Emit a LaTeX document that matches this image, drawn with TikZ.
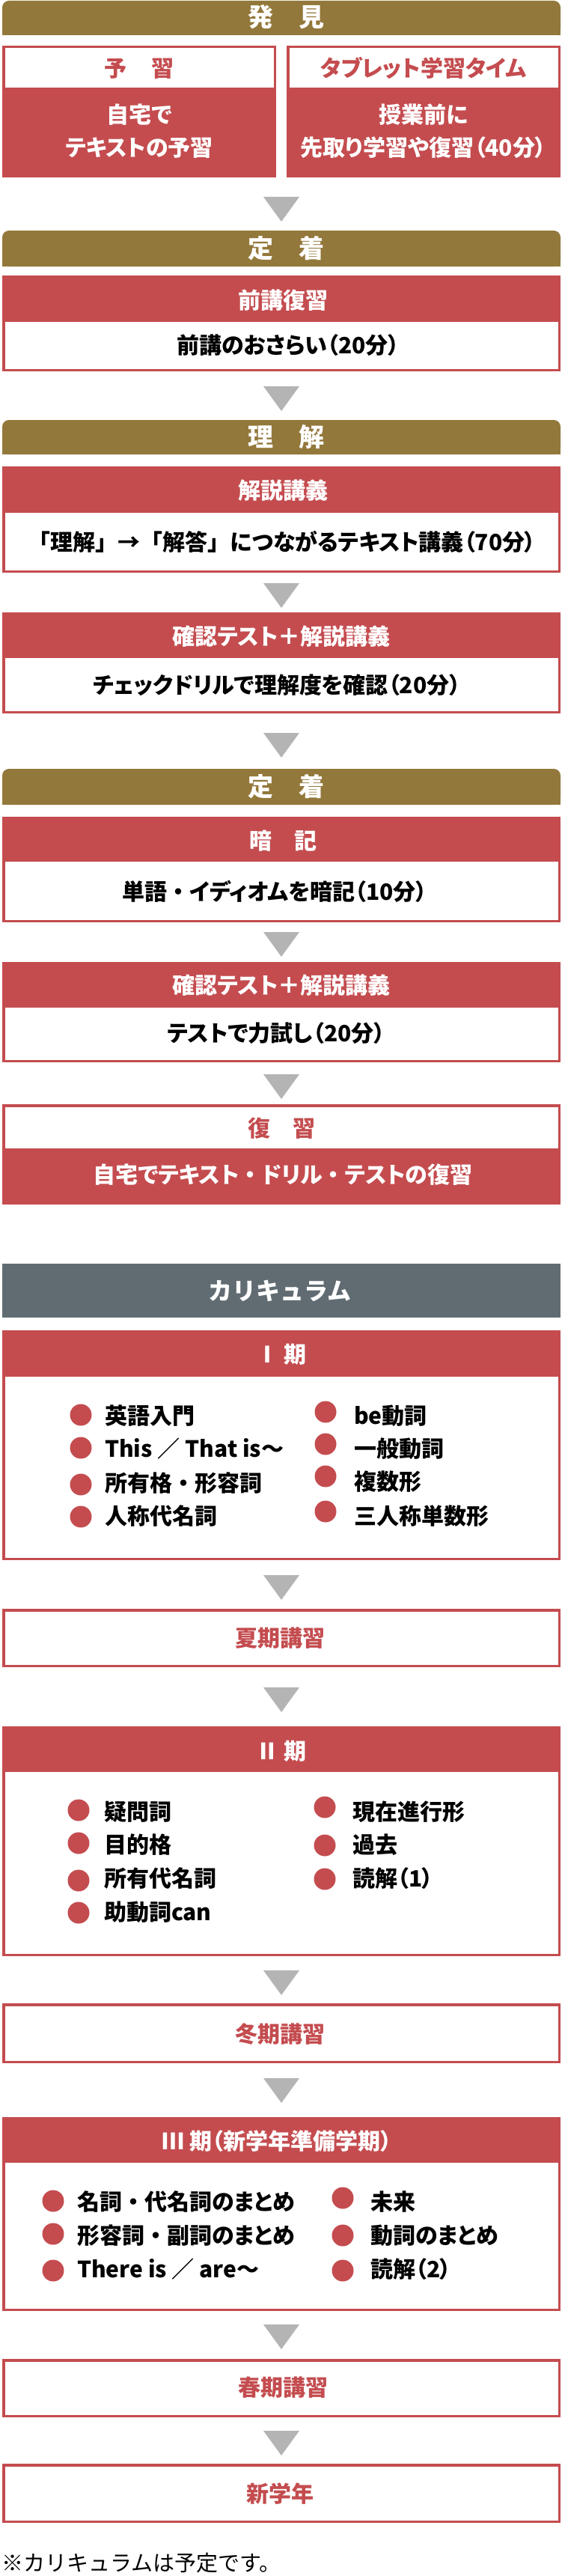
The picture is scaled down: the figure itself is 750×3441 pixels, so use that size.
\documentclass[tikz,border=0pt]{standalone}
\usepackage{fontspec}
\setmainfont{Noto Sans CJK JP}[RawFeature=+palt]
\newfontfamily\jpmono{Noto Sans CJK JP}
\newcommand\nk{{\jpmono ・}}
\newcommand\lb{{\jpmono 「}}
\newcommand\rb{{\jpmono 」}}
\definecolor{cred}{HTML}{C44C4F}
\definecolor{colive}{HTML}{93783B}
\definecolor{cslate}{HTML}{616C72}
\definecolor{cgray}{HTML}{B4B4B4}
\newcommand\redtopbox[3]{\fill[cred] (3,#1) rectangle (749,#2);
  \draw[cred,line width=3.5pt] (4.75,{#1+1.75}) rectangle (747.25,{#3-1.75});}
\newcommand\whitetopbox[3]{\fill[cred] (3,#2) rectangle (749,#3);
  \draw[cred,line width=3.5pt] (4.75,{#1+1.75}) rectangle (747.25,{#3-1.75});}
\newcommand\plainbox[2]{\draw[cred,line width=3.5pt] (4.75,{#1+1.75}) rectangle (747.25,{#2-1.75});}
\newcommand\downtri[1]{\fill[cgray] (352,#1) -- (400,#1) -- (376,{#1+33}) -- cycle;}
\newcommand\hdrband[3]{\fill[#3,rounded corners=9pt] (3,#1) rectangle (749,#2);
  \fill[#3] (3,{#1+15}) rectangle (749,#2);}
\tikzset{
  every node/.style={inner sep=0pt, outer sep=0pt},
  hdrtxt/.style={text=white, anchor=base, font=\jpmono\bfseries\fontsize{34}{40}\selectfont},
  slatetxt/.style={text=white, anchor=base, font=\jpmono\bfseries\fontsize{32}{38}\selectfont},
  ttlw/.style={text=white, anchor=base, font=\bfseries\fontsize{30}{36}\selectfont},
  ttlr/.style={text=cred, anchor=base, font=\bfseries\fontsize{30}{36}\selectfont},
  bodyk/.style={text=black, anchor=base, font=\bfseries\fontsize{30}{36}\selectfont},
  bodyw/.style={text=white, anchor=base, font=\bfseries\fontsize{30}{36}\selectfont},
  itemtxt/.style={text=black, anchor=base west, font=\bfseries\fontsize{30}{36}\selectfont},
  bul/.style={circle, fill=cred, minimum size=29pt, inner sep=0pt},
  foot/.style={text=black, anchor=base west, font=\jpmono\fontsize{29}{34}\selectfont},
}
\begin{document}
\begin{tikzpicture}[x=1pt,y=-1pt]
\useasboundingbox[fill=white] (0,0) rectangle (750,3441);

% ---- 発見
\hdrband{1}{47}{colive}
\node[hdrtxt] (h1) at (382,36) {発\hspace{1em}見};
% left box
\fill[cred] (3,117) rectangle (369,237);
\draw[cred,line width=3.5pt] (4.75,62.75) rectangle (367.25,235.25);
\node[ttlr] (yoshu) at (186,103) {予\hspace{1.1em}習};
\node[bodyw] (yoshu1) at (186,165) {自宅で};
\node[bodyw] (yoshu2) at (186,209) {テキストの予習};
% right box
\fill[cred] (383,117) rectangle (749,237);
\draw[cred,line width=3.5pt] (384.75,62.75) rectangle (747.25,235.25);
\node[ttlr] (tab) at (566,103) {タブレット学習タイム};
\node[bodyw] (tab1) at (566,165) {授業前に};
\node[bodyw] (tab2) at (566,209) {先取り学習や復習（40分）};
\downtri{263}

% ---- 定着
\hdrband{308}{356}{colive}
\node[hdrtxt] (h2) at (382,344) {定\hspace{1em}着};
\redtopbox{368}{430}{496}
\node[ttlw] (zenko) at (378,412) {前講復習};
\node[bodyk] (zenko1) at (385,472) {前講のおさらい（20分）};
\downtri{516}

% ---- 理解
\hdrband{561}{607}{colive}
\node[hdrtxt] (h3) at (382,596) {理\hspace{1em}解};
\redtopbox{623}{685}{765}
\node[ttlw] (kaisetsu) at (378,666) {解説講義};
\node[bodyk] (kaisetsu1) at (377,735) {\lb 理解\rb →\lb 解答\rb につながるテキスト講義（70分）};
\downtri{779}
\redtopbox{818}{879}{953}
\node[ttlw] (kakunin) at (376,861) {確認テスト＋解説講義};
\node[bodyk] (kakunin1) at (370,926) {チェックドリルで理解度を確認（20分）};
\downtri{979}

% ---- 定着
\hdrband{1027}{1075}{colive}
\node[hdrtxt] (h4) at (382,1063) {定\hspace{1em}着};
\redtopbox{1091}{1151}{1232}
\node[ttlw] (anki) at (378,1134) {暗\hspace{1em}記};
\node[bodyk] (anki1) at (367,1202) {単語\nk イディオムを暗記（10分）};
\downtri{1245}
\redtopbox{1285}{1346}{1419}
\node[ttlw] (kakunin2) at (376,1327) {確認テスト＋解説講義};
\node[bodyk] (kakunin3) at (369,1391) {テストで力試し（20分）};
\downtri{1435}
\whitetopbox{1475}{1534}{1609}
\node[ttlr] (fukushu) at (376,1518) {復\hspace{1em}習};
\node[bodyw] (fukushu1) at (378,1580) {自宅でテキスト\nk ドリル\nk テストの復習};

% ---- カリキュラム
\fill[cslate] (3,1688) rectangle (749,1760);
\node[slatetxt] (cur) at (374,1736) {カリキュラム};

% Ⅰ期
\redtopbox{1777}{1839}{2084}
\node[ttlw] (k1) at (376,1820) {Ⅰ 期};
\node[bul] (k1b1) at (108,1890) {};
\node[bul] (k1b2) at (108,1934) {};
\node[bul] (k1b3) at (108,1983) {};
\node[bul] (k1b4) at (108,2026) {};
\node[itemtxt] (k1t1) at (140,1902) {英語入門};
\node[itemtxt] (k1t2) at (140,1946) {This ／ That is～};
\node[itemtxt] (k1t3) at (140,1992) {所有格\nk 形容詞};
\node[itemtxt] (k1t4) at (140,2036) {人称代名詞};
\node[bul] (k1b5) at (435,1886) {};
\node[bul] (k1b6) at (435,1929) {};
\node[bul] (k1b7) at (435,1972) {};
\node[bul] (k1b8) at (435,2019) {};
\node[itemtxt] (k1t5) at (473,1902) {be動詞};
\node[itemtxt] (k1t6) at (473,1946) {一般動詞};
\node[itemtxt] (k1t7) at (473,1990) {複数形};
\node[itemtxt] (k1t8) at (473,2036) {三人称単数形};
\downtri{2104}
\plainbox{2149}{2227}
\node[ttlr] (kaki) at (374,2199) {夏期講習};
\downtri{2254}

% Ⅱ期
\redtopbox{2306}{2367}{2613}
\node[ttlw] (k2) at (376,2350) {Ⅱ 期};
\node[bul] (k2b1) at (105,2418) {};
\node[bul] (k2b2) at (105,2462) {};
\node[bul] (k2b3) at (105,2512) {};
\node[bul] (k2b4) at (105,2555) {};
\node[itemtxt] (k2t1) at (139,2431) {疑問詞};
\node[itemtxt] (k2t2) at (139,2475) {目的格};
\node[itemtxt] (k2t3) at (139,2520) {所有代名詞};
\node[itemtxt] (k2t4) at (139,2565) {助動詞can};
\node[bul] (k2b5) at (434,2414) {};
\node[bul] (k2b6) at (434,2465) {};
\node[bul] (k2b7) at (434,2510) {};
\node[itemtxt] (k2t5) at (471,2431) {現在進行形};
\node[itemtxt] (k2t6) at (471,2475) {過去};
\node[itemtxt] (k2t7) at (471,2520) {読解（1）};
\downtri{2632}
\plainbox{2676}{2756}
\node[ttlr] (toki) at (374,2728) {冬期講習};
\downtri{2776}

% Ⅲ期
\redtopbox{2828}{2889}{3087}
\node[ttlw] (k3) at (370,2871) {Ⅲ 期（新学年準備学期）};
\node[bul] (k3b1) at (71,2940) {};
\node[bul] (k3b2) at (71,2984) {};
\node[bul] (k3b3) at (71,3033) {};
\node[itemtxt] (k3t1) at (103,2952) {名詞\nk 代名詞のまとめ};
\node[itemtxt] (k3t2) at (103,2997) {形容詞\nk 副詞のまとめ};
\node[itemtxt] (k3t3) at (103,3042) {There is ／ are～};
\node[bul] (k3b4) at (458,2936) {};
\node[bul] (k3b5) at (458,2986) {};
\node[bul] (k3b6) at (458,3033) {};
\node[itemtxt] (k3t4) at (495,2952) {未来};
\node[itemtxt] (k3t5) at (495,2997) {動詞のまとめ};
\node[itemtxt] (k3t6) at (495,3042) {読解（2）};
\downtri{3105}
\plainbox{3151}{3229}
\node[ttlr] (shunki) at (378,3200) {春期講習};
\downtri{3247}
\plainbox{3291}{3370}
\node[ttlr] (shin) at (374,3342) {新学年};

\node[foot] (note) at (2,3434) {※カリキュラムは予定です。};
\end{tikzpicture}
\end{document}
